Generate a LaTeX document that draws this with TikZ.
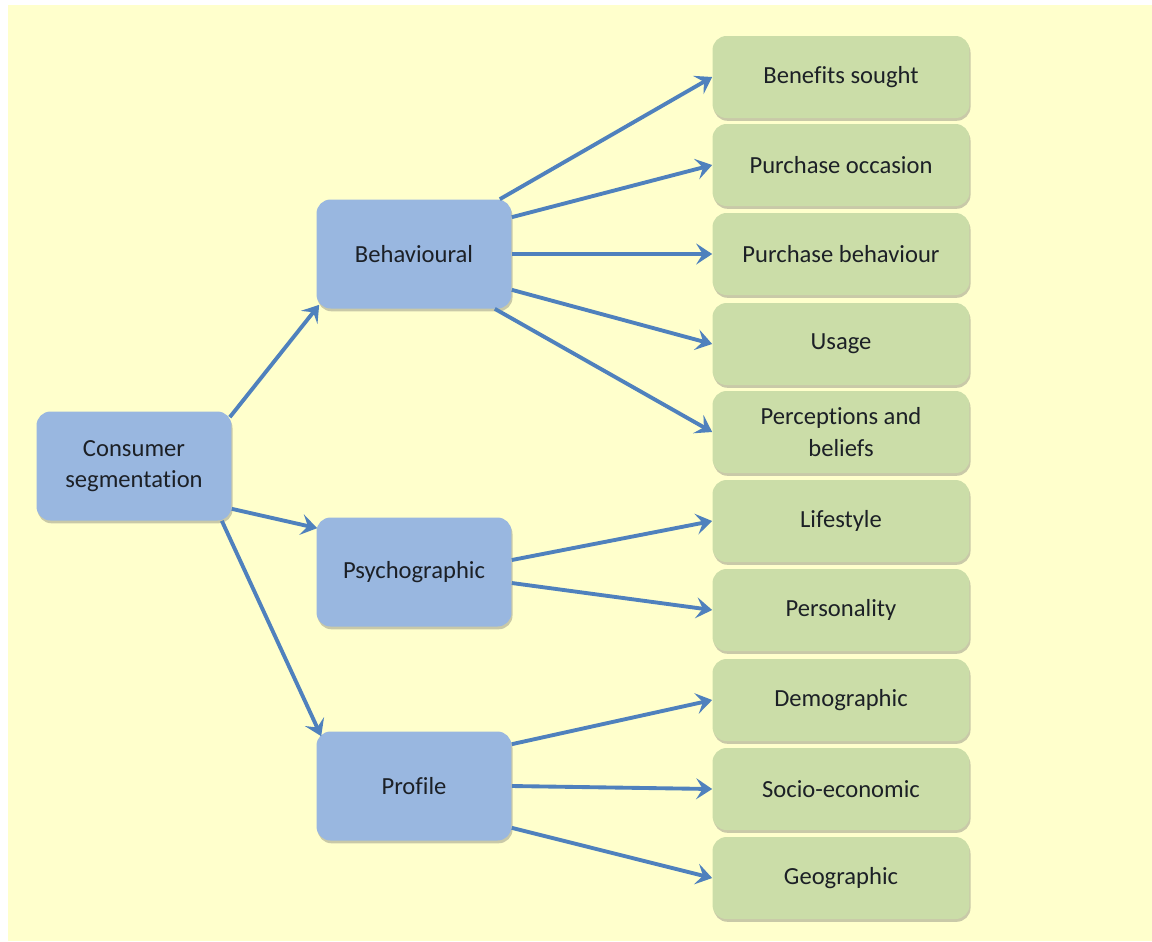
\documentclass[tikz,border=0pt]{standalone}
\usepackage{fontspec}
\setmainfont{Carlito}[Ligatures=NoCommon]
\usetikzlibrary{arrows, arrows.meta}
\usetikzlibrary{calc}
\usetikzlibrary{shadows}

\definecolor{bgyellow}{RGB}{255,255,204}
\definecolor{boxblue}{RGB}{153,183,224}
\definecolor{boxgreen}{RGB}{203,221,168}
\definecolor{arrowblue}{RGB}{79,129,189}
\definecolor{boxtext}{RGB}{28,32,38}

\begin{document}
\begin{tikzpicture}[x=0.02cm, y=-0.02cm,
    segbox/.style={rectangle, rounded corners=0.28cm, align=center, text=boxtext,
      font=\fontsize{14}{18}\selectfont,
      drop shadow={shadow xshift=0.6pt, shadow yshift=-1.6pt, opacity=0.35, fill=black!60}},
    bluebox/.style={segbox, fill=boxblue, minimum width=3.9cm, minimum height=2.18cm},
    greenbox/.style={segbox, fill=boxgreen, minimum width=5.14cm, minimum height=1.64cm},
    arr/.style={draw=arrowblue, line width=2.2pt, -{Stealth[length=0.32cm, width=0.42cm, inset=0.13cm]}}]
        \useasboundingbox (0,0) rectangle (1152,941);
        \fill[bgyellow] (8,5) rectangle (1152,941);

        % left and middle column
        \node[bluebox] (cs) at (134,466) {Consumer\\segmentation};
        \node[bluebox] (beh) at (414,254) {Behavioural};
        \node[bluebox] (psy) at (414,572) {Psychographic};
        \node[bluebox] (pro) at (414,786) {Profile};

        % right column
        \node[greenbox] (ben) at (841,77) {Benefits sought};
        \node[greenbox] (occ) at (841,165) {Purchase occasion};
        \node[greenbox] (pbh) at (841,254) {Purchase behaviour};
        \node[greenbox] (usa) at (841,344) {Usage};
        \node[greenbox] (per) at (841,432) {Perceptions and\\beliefs};
        \node[greenbox] (lif) at (841,521) {Lifestyle};
        \node[greenbox] (pers) at (841,610) {Personality};
        \node[greenbox] (dem) at (841,700) {Demographic};
        \node[greenbox] (soc) at (841,789) {Socio-economic};
        \node[greenbox] (geo) at (841,878) {Geographic};

        \draw[arr] ([shift={(-2,6)}]cs.north east) -- ([shift={(3,-4)}]beh.south west);
        \draw[arr] ([shift={(0,-12)}]cs.south east) -- ([shift={(1,11)}]psy.north west);
        \draw[arr] ([shift={(-10,0)}]cs.south east) -- ([shift={(5,5)}]pro.north west);

        \draw[arr] ([shift={(-12,0)}]beh.north east) -- (ben.west);
        \draw[arr] ([shift={(0,18)}]beh.north east) -- (occ.west);
        \draw[arr] (beh.east) -- (pbh.west);
        \draw[arr] ([shift={(0,-19)}]beh.south east) -- (usa.west);
        \draw[arr] ([shift={(-17,0)}]beh.south east) -- (per.west);

        \draw[arr] ([shift={(0,-12)}]psy.east) -- (lif.west);
        \draw[arr] ([shift={(0,11)}]psy.east) -- (pers.west);

        \draw[arr] ([shift={(0,13)}]pro.north east) -- (dem.west);
        \draw[arr] (pro.east) -- (soc.west);
        \draw[arr] ([shift={(0,-13)}]pro.south east) -- (geo.west);
      \end{tikzpicture}
\end{document}
